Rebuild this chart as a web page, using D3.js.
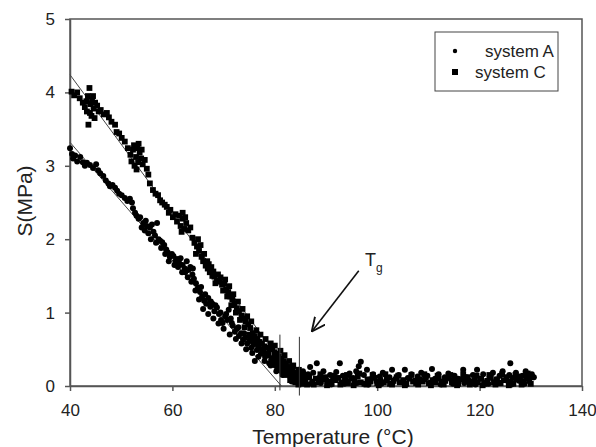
<!DOCTYPE html>
<html>
<head>
<meta charset="utf-8">
<script src="https://cdn.jsdelivr.net/npm/d3@7"></script>
<style>
  body { margin: 0; background: #fff; }
  svg text { font-family: "Liberation Sans", Arial, sans-serif; fill: #222; }
</style>
</head>
<body>
<div id="chart"></div>
<script>
// system A (circles)
const tempA = [40.0,40.4,40.6,41.0,41.4,42.0,42.5,42.9,43.3,43.9,44.5,45.1,45.5,45.9,46.5,47.0,47.5,47.8,48.3,48.8,
  49.2,49.6,50.1,50.7,51.2,51.7,52.1,52.3,52.7,53.0,53.4,53.7,54.0,54.3,54.6,55.0,55.3,55.6,56.0,56.3,
  56.6,57.0,57.3,57.6,58.0,58.4,58.8,59.1,59.5,59.9,60.2,60.6,60.9,61.3,61.6,62.0,62.4,62.8,63.1,63.5,
  63.9,64.2,64.6,65.0,65.4,65.8,66.2,66.6,67.0,67.4,67.8,68.2,68.7,69.1,69.5,69.8,70.3,70.7,71.0,71.4,
  71.8,72.2,72.6,73.0,73.4,73.8,74.2,74.6,75.0,75.4,75.8,76.1,76.5,76.9,77.3,77.7,78.1,78.5,78.9,79.3,
  79.7,80.1,80.5,80.9,81.3,81.7,82.1,82.5,83.0,83.4,83.8,84.3,84.8,85.3,
  54.8,55.8,56.8,57.8,58.6,59.3,60.4,61.1,61.9,
  62.5,63.0,63.7,64.0,64.5,65.2,65.6,66.0,66.4,67.0,67.5,68.0,68.4,69.0,69.4,70.0,70.5,71.2,71.6,72.4,
  72.9,73.5,74.0,74.4,75.2,75.6,76.3,76.8,77.5,78.0,78.7,79.2,79.9,80.3,80.8,81.5,82.0,82.8,83.3,83.6,
  84.0,84.6,85.0,85.5,86.0,86.2,
  85.8,86.5,86.9,87.5,88.2,88.8,89.5,90.1,90.8,91.4,92.0,92.7,93.3,94.0,94.6,95.3,95.9,96.4,96.8,97.4,
  98.0,98.6,99.2,99.9,100.5,101.1,101.8,102.4,102.9,103.6,104.2,104.8,105.4,106.0,106.7,107.3,107.9,108.6,109.2,109.8,
  110.7,111.3,112.0,112.6,113.2,113.9,114.5,115.1,115.8,116.8,117.4,118.0,118.7,119.5,120.1,120.7,121.4,122.0,122.6,123.3,
  123.9,124.5,125.2,125.8,126.0,126.5,127.1,127.7,128.4,129.0,129.6,130.2,130.6,
  87.2,89.0,91.0,93.6,96.0,98.3,100.8,103.0,105.6,108.0,110.2,112.4,114.8,117.0,119.2,121.7,124.0,126.2,128.8];
const sA = [3.24,3.16,3.10,3.14,3.06,3.12,3.05,3.00,3.04,3.01,2.97,3.02,2.94,2.90,2.86,2.80,2.76,2.72,2.74,2.70,
  2.66,2.62,2.60,2.56,2.52,2.55,2.50,2.42,2.36,2.32,2.28,2.30,2.16,2.22,2.12,2.18,2.08,2.16,2.20,2.10,
  2.05,2.22,2.00,1.98,1.96,1.92,1.86,1.82,1.76,1.80,1.77,1.70,1.73,1.68,1.74,1.65,1.60,1.70,1.58,1.62,
  1.52,1.46,1.40,1.34,1.28,1.22,1.16,1.12,1.20,1.08,1.12,1.02,1.07,0.98,0.90,0.86,0.95,0.90,1.04,0.92,
  0.82,0.74,0.78,0.68,0.72,0.63,0.66,0.58,0.61,0.52,0.56,0.34,0.49,0.52,0.44,0.47,0.40,0.42,0.31,0.36,
  0.33,0.28,0.25,0.30,0.20,0.24,0.16,0.20,0.13,0.16,0.10,0.08,0.12,0.05,
  2.25,2.00,1.95,1.88,1.80,1.70,1.65,1.62,1.55,
  1.55,1.48,1.42,1.60,1.30,1.18,1.35,1.05,1.25,0.98,1.15,0.92,1.10,0.85,1.00,0.78,0.98,0.70,0.86,0.64,
  0.80,0.58,0.72,0.50,0.64,0.45,0.58,0.40,0.50,0.34,0.45,0.28,0.40,0.20,0.36,0.15,0.30,0.24,0.06,0.26,
  0.18,0.22,0.15,0.20,0.03,0.12,
  0.09,0.16,0.26,0.18,0.31,0.12,0.20,0.08,0.15,0.10,0.19,0.31,0.14,0.07,0.17,0.11,0.20,0.27,0.33,0.15,
  0.22,0.09,0.16,0.06,0.13,0.18,0.08,0.12,0.22,0.10,0.15,0.05,0.22,0.11,0.16,0.07,0.13,0.18,0.09,0.14,
  0.23,0.10,0.16,0.06,0.12,0.17,0.08,0.14,0.10,0.22,0.12,0.07,0.15,0.22,0.10,0.16,0.06,0.13,0.18,0.09,
  0.14,0.20,0.08,0.15,0.31,0.11,0.18,0.07,0.14,0.20,0.10,0.16,0.12,
  0.03,0.04,0.02,0.03,0.04,0.02,0.03,0.04,0.02,0.03,0.04,0.02,0.03,0.04,0.02,0.03,0.04,0.02,0.03];

// system C (squares)
const tempC = [40.3,40.8,41.4,41.9,42.5,42.9,43.3,43.5,43.6,43.8,44.0,44.2,44.3,44.6,44.9,45.3,45.6,46.0,46.6,47.2,
  47.6,48.1,48.8,49.1,49.6,50.1,50.7,51.3,51.8,52.0,52.3,52.6,52.9,53.1,53.3,53.6,53.9,54.2,54.6,55.0,
  55.3,55.6,56.2,56.7,57.2,57.6,58.0,58.5,58.9,59.3,59.6,60.1,60.6,60.9,61.3,61.6,62.0,62.3,62.7,63.1,
  63.5,63.9,64.3,64.8,65.2,65.7,66.0,66.5,66.9,67.3,67.8,68.2,68.7,69.2,69.7,70.1,70.5,70.9,71.3,71.7,
  72.1,72.6,73.0,73.5,73.9,74.3,74.8,75.2,75.7,76.1,76.6,77.0,77.5,78.0,78.5,79.0,79.5,79.9,80.4,80.8,
  81.3,81.7,82.1,82.6,83.0,83.4,83.9,84.4,84.9,85.4,
  80.2,81.0,82.0,83.0,84.0,84.6,85.0,
  43.9,44.5,43.2,44.8,52.5,53.0,53.4,54.0,61.8,62.0,62.5,
  64.6,65.0,65.5,66.2,66.8,67.1,67.6,68.0,68.4,68.9,69.4,69.9,70.3,70.7,71.1,71.5,71.9,72.4,72.8,73.2,
  73.7,74.1,74.6,75.0,75.4,75.9,76.4,76.8,77.2,77.7,78.2,78.7,79.2,79.7,80.0,80.6,81.1,81.5,81.9,82.3,
  82.8,83.2,83.6,84.2,84.7,85.2,85.7,86.3,
  86.0,86.7,87.3,88.0,88.6,89.2,89.9,90.5,91.1,91.8,92.4,93.0,93.7,94.3,94.9,95.6,96.2,96.8,97.5,98.1,
  98.7,99.4,100.0,100.6,101.3,101.9,102.5,103.2,103.8,104.4,105.1,105.7,106.3,107.0,107.6,108.2,108.9,109.5,110.1,110.8,
  111.4,112.0,112.7,113.3,113.9,114.6,115.2,115.8,116.5,117.1,117.7,118.4,119.0,119.6,120.3,120.9,121.5,122.2,122.8,123.4,
  124.1,124.7,125.3,126.0,126.6,127.2,127.9,128.5,129.1,129.7,130.2,
  86.3,87.6,88.9,90.2,91.5,92.8,94.1,95.4,96.5,97.9,99.1,100.3,101.6,102.9,104.1,105.4,106.7,108.0,109.2,110.5,
  111.8,113.0,114.3,115.6,116.8,118.1,119.4,120.6,121.9,123.1,124.4,125.7,127.0,128.2,129.4,130.0];
const sC = [4.01,3.96,4.00,3.92,3.86,3.80,3.74,3.95,3.56,4.06,3.84,3.68,3.90,3.78,3.86,3.82,3.74,3.76,3.70,3.72,
  3.66,3.60,3.56,3.46,3.44,3.38,3.33,3.24,3.15,3.06,3.22,3.00,3.12,3.24,3.05,3.18,3.10,3.02,3.08,2.96,
  2.88,2.76,2.67,2.62,2.60,2.53,2.50,2.47,2.44,2.36,2.40,2.30,2.34,2.24,2.32,2.18,2.28,2.14,2.22,2.12,
  2.16,2.02,1.95,1.90,1.84,1.76,1.70,1.64,1.60,1.55,1.50,1.49,1.44,1.42,1.38,1.40,1.32,1.28,1.22,1.18,
  1.12,1.06,1.02,0.96,0.92,0.88,0.84,0.79,0.72,0.68,0.64,0.60,0.58,0.54,0.52,0.50,0.52,0.46,0.44,0.40,
  0.37,0.34,0.31,0.26,0.24,0.20,0.18,0.15,0.12,0.10,
  0.30,0.22,0.15,0.08,0.05,0.02,0.04,
  3.72,3.95,3.88,3.65,3.28,2.95,3.30,3.22,2.10,2.36,2.30,
  1.80,2.00,1.92,1.80,1.70,1.66,1.62,1.56,1.40,1.52,1.48,1.30,1.45,1.22,1.36,1.10,1.25,1.00,1.15,0.90,
  1.05,0.80,0.95,0.70,0.88,0.62,0.76,0.55,0.70,0.48,0.64,0.42,0.58,0.38,0.55,0.32,0.48,0.26,0.42,0.20,
  0.34,0.14,0.28,0.08,0.22,0.03,0.15,0.02,
  0.08,0.12,0.06,0.10,0.05,0.09,0.12,0.06,0.03,0.08,0.11,0.05,0.09,0.04,0.10,0.07,0.13,0.05,0.03,0.09,
  0.06,0.11,0.04,0.08,0.05,0.10,0.03,0.07,0.12,0.05,0.08,0.03,0.10,0.06,0.04,0.09,0.06,0.12,0.04,0.08,
  0.05,0.10,0.03,0.07,0.11,0.05,0.08,0.03,0.09,0.06,0.12,0.04,0.08,0.05,0.10,0.03,0.07,0.11,0.05,0.09,
  0.04,0.08,0.12,0.06,0.03,0.09,0.13,0.06,0.10,0.07,0.12,
  0.15,0.02,0.16,0.01,0.14,0.02,0.15,0.01,0.17,0.02,0.15,0.01,0.16,0.02,0.14,0.01,0.15,0.02,0.16,0.01,
  0.14,0.02,0.15,0.01,0.16,0.02,0.14,0.01,0.15,0.02,0.16,0.01,0.15,0.02,0.17,0.03];

// linear fits (end points) and Tg marks
const fitTempA = [40, 81.3], fitSA = [3.32, 0];
const fitTempC = [40, 84.8], fitSC = [4.24, 0];
const tgTemps = [81.0, 84.8], tgTop = [0.70, 0.67], tgBottom = [-0.06, -0.13];
const arrowTemp = [96.4, 87.3], arrowS = [1.57, 0.75];
const labelTemp = 97.6, labelS = 1.63;

const xTicks = [40, 60, 80, 100, 120, 140];
const yTicks = [0, 1, 2, 3, 4, 5];
const seriesNames = ['system A', 'system C'];

const W = 596, H = 447;
const margin = {top: 19, right: 14, bottom: 61, left: 70};

const svg = d3.select('#chart').append('svg')
  .attr('width', W).attr('height', H);

const x = d3.scaleLinear().domain([40, 140]).range([margin.left, W - margin.right]);
const y = d3.scaleLinear().domain([0, 5]).range([H - margin.bottom, margin.top]);

// frame
svg.append('rect')
  .attr('x', x(40)).attr('y', y(5))
  .attr('width', x(140) - x(40)).attr('height', y(0) - y(5))
  .attr('fill', 'none').attr('stroke', '#555').attr('stroke-width', 1.5);

const xAxis = svg.append('g')
  .attr('transform', `translate(0,${y(0)})`)
  .call(d3.axisBottom(x).tickValues(xTicks).tickFormat(d3.format('d'))
    .tickSize(5).tickPadding(13).tickSizeOuter(0));
const yAxis = svg.append('g')
  .attr('transform', `translate(${x(40)},0)`)
  .call(d3.axisLeft(y).tickValues(yTicks).tickFormat(d3.format('d'))
    .tickSize(5).tickPadding(10).tickSizeOuter(0));

[xAxis, yAxis].forEach(g => {
  g.selectAll('path, line').attr('stroke', '#555').attr('stroke-width', 1.5);
  g.selectAll('text').attr('font-size', 17).attr('fill', '#222')
    .style('font-family', '"Liberation Sans", Arial, sans-serif');
});

// fit lines
const line = d3.line().x(d => x(d[0])).y(d => y(d[1]));
[[fitTempA, fitSA], [fitTempC, fitSC]].forEach(([t, s]) => {
  svg.append('path')
    .attr('d', line(t.map((v, i) => [v, s[i]])))
    .attr('fill', 'none').attr('stroke', '#444').attr('stroke-width', 1);
});

// points
const dataA = tempA.map((t, i) => ({t: t, s: sA[i]}));
const dataC = tempC.map((t, i) => ({t: t, s: sC[i]}));
const sq = 5.8;

svg.append('g').selectAll('rect')
  .data(dataC)
  .enter().append('rect')
  .attr('x', d => x(d.t) - sq / 2)
  .attr('y', d => y(d.s) - sq / 2)
  .attr('width', sq).attr('height', sq)
  .attr('fill', '#000');

svg.append('g').selectAll('circle')
  .data(dataA)
  .enter().append('circle')
  .attr('cx', d => x(d.t))
  .attr('cy', d => y(d.s))
  .attr('r', 3)
  .attr('fill', '#000');

// Tg vertical markers
svg.append('g').selectAll('line')
  .data(tgTemps)
  .enter().append('line')
  .attr('x1', d => x(d)).attr('x2', d => x(d))
  .attr('y1', (d, i) => y(tgTop[i])).attr('y2', (d, i) => y(tgBottom[i]))
  .attr('stroke', '#333').attr('stroke-width', 1);

// arrow
svg.append('defs').append('marker')
  .attr('id', 'head').attr('viewBox', '0 0 10 10')
  .attr('refX', 9).attr('refY', 5)
  .attr('markerWidth', 9).attr('markerHeight', 9)
  .attr('orient', 'auto')
  .append('path').attr('d', 'M0,0.5 L9.5,5 L0,9.5')
  .attr('fill', 'none').attr('stroke', '#111').attr('stroke-width', 1.3);

svg.append('line')
  .attr('x1', x(arrowTemp[0])).attr('y1', y(arrowS[0]))
  .attr('x2', x(arrowTemp[1])).attr('y2', y(arrowS[1]))
  .attr('stroke', '#111').attr('stroke-width', 1.6)
  .attr('marker-end', 'url(#head)');

const tg = svg.append('text')
  .attr('x', x(labelTemp)).attr('y', y(labelS))
  .attr('font-size', 18);
tg.append('tspan').text('T');
tg.append('tspan').attr('dy', 6).attr('font-size', 12).text('g');

// axis titles
svg.append('text')
  .attr('x', 333).attr('y', 444)
  .attr('text-anchor', 'middle').attr('font-size', 21)
  .text('Temperature (°C)');
svg.append('text')
  .attr('transform', 'translate(32,201) rotate(-90)')
  .attr('text-anchor', 'middle').attr('font-size', 21)
  .text('S(MPa)');

// legend
const legend = svg.append('g');
legend.append('rect')
  .attr('x', 435).attr('y', 32).attr('width', 123).attr('height', 59)
  .attr('fill', '#fff').attr('stroke', '#444').attr('stroke-width', 1);
legend.append('circle').attr('cx', 455).attr('cy', 51).attr('r', 2.2).attr('fill', '#000');
legend.append('rect').attr('x', 452).attr('y', 69).attr('width', 6).attr('height', 6).attr('fill', '#000');
legend.append('text').attr('x', 485).attr('y', 57).attr('font-size', 17).text(seriesNames[0]);
legend.append('text').attr('x', 475).attr('y', 78).attr('font-size', 17).text(seriesNames[1]);
</script>
</body>
</html>
